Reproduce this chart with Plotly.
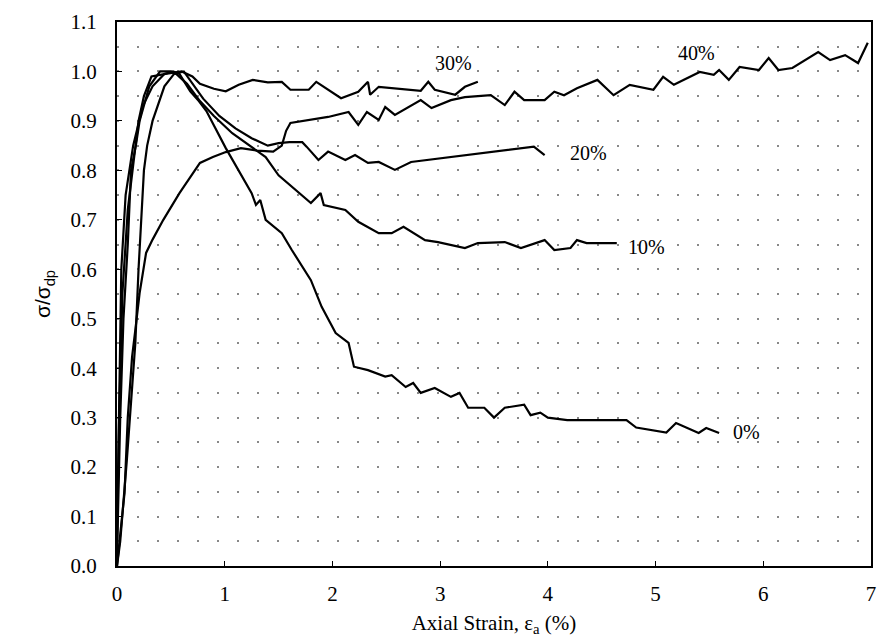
import plotly.graph_objects as go

# ---- data ----
x_0 = [0, 0.02, 0.04, 0.08, 0.15, 0.24, 0.33, 0.44, 0.52, 0.58, 0.68, 0.76, 0.83, 1.01, 1.10,
       1.25, 1.29, 1.33, 1.38, 1.53, 1.62, 1.80, 1.90, 2.03, 2.15, 2.20, 2.33, 2.49, 2.55, 2.68,
       2.75, 2.82, 2.95, 3.10, 3.18, 3.26, 3.41, 3.50, 3.60, 3.78, 3.84, 3.93, 4.00, 4.18, 4.73,
       4.82, 5.10, 5.19, 5.40, 5.47, 5.59]
y_0 = [0.05, 0.30, 0.60, 0.75, 0.85, 0.93, 0.97, 0.995, 1.0, 0.995, 0.96, 0.94, 0.92, 0.845, 0.81,
       0.754, 0.73, 0.74, 0.70, 0.673, 0.64, 0.578, 0.524, 0.471, 0.451, 0.403, 0.396, 0.383, 0.386, 0.362,
       0.37, 0.35, 0.36, 0.342, 0.35, 0.32, 0.32, 0.30, 0.32, 0.326, 0.305, 0.31, 0.30, 0.295, 0.295,
       0.28, 0.27, 0.289, 0.269, 0.279, 0.269]

x_10 = [0, 0.03, 0.06, 0.10, 0.13, 0.175, 0.21, 0.30, 0.40, 0.50, 0.55, 0.65, 0.77, 0.90, 1.07,
        1.20, 1.38, 1.50, 1.66, 1.80, 1.89, 1.92, 2.12, 2.24, 2.43, 2.55, 2.66, 2.86, 2.98, 3.23,
        3.35, 3.60, 3.75, 3.97, 4.06, 4.21, 4.27, 4.36, 4.64]
y_10 = [0.02, 0.30, 0.50, 0.65, 0.80, 0.85, 0.90, 0.97, 1.0, 1.0, 0.995, 0.975, 0.94, 0.91, 0.875,
        0.855, 0.827, 0.79, 0.76, 0.734, 0.754, 0.73, 0.72, 0.696, 0.673, 0.673, 0.686, 0.659, 0.655, 0.643,
        0.653, 0.655, 0.643, 0.659, 0.639, 0.643, 0.659, 0.653, 0.653]

x_20 = [0, 0.03, 0.09, 0.17, 0.20, 0.25, 0.28, 0.33, 0.44, 0.53, 0.62, 0.70, 0.80, 0.95, 1.10,
        1.25, 1.40, 1.50, 1.60, 1.72, 1.76, 1.87, 1.96, 2.12, 2.21, 2.33, 2.43, 2.58, 2.73, 3.87, 3.97]
y_20 = [0.0, 0.05, 0.21, 0.45, 0.60, 0.80, 0.85, 0.90, 0.97, 0.995, 1.0, 0.975, 0.945, 0.91, 0.885,
        0.865, 0.85, 0.855, 0.857, 0.857, 0.848, 0.821, 0.838, 0.821, 0.831, 0.815, 0.817, 0.801, 0.817, 0.848, 0.831]

x_30 = [0, 0.02, 0.05, 0.10, 0.15, 0.20, 0.25, 0.32, 0.45, 0.60, 0.70, 0.77, 0.90, 1.01, 1.13,
        1.26, 1.40, 1.53, 1.61, 1.78, 1.85, 2.08, 2.24, 2.33, 2.35, 2.43, 2.82, 2.89, 2.95, 3.14,
        3.23, 3.35]
y_30 = [0.05, 0.30, 0.55, 0.72, 0.81, 0.90, 0.95, 0.99, 0.995, 1.0, 0.99, 0.975, 0.965, 0.96, 0.973,
        0.983, 0.978, 0.979, 0.963, 0.963, 0.979, 0.946, 0.959, 0.979, 0.953, 0.969, 0.961, 0.979, 0.963, 0.953,
        0.969, 0.979]

x_40 = [0, 0.03, 0.07, 0.10, 0.14, 0.17, 0.21, 0.27, 0.33, 0.43, 0.58, 0.77, 0.89, 1.01, 1.15,
        1.30, 1.45, 1.53, 1.57, 1.61, 1.96, 2.15, 2.24, 2.32, 2.43, 2.49, 2.58, 2.82, 2.92, 3.10,
        3.23, 3.47, 3.60, 3.69, 3.78, 3.97, 4.06, 4.15, 4.27, 4.46, 4.61, 4.76, 4.98, 5.07, 5.17,
        5.41, 5.54, 5.59, 5.68, 5.78, 5.96, 6.05, 6.14, 6.27, 6.51, 6.62, 6.76, 6.88, 6.97]
y_40 = [0.0, 0.067, 0.148, 0.30, 0.423, 0.477, 0.552, 0.633, 0.66, 0.70, 0.754, 0.815, 0.827, 0.837, 0.845,
        0.84, 0.838, 0.85, 0.88, 0.896, 0.908, 0.918, 0.892, 0.918, 0.902, 0.928, 0.912, 0.942, 0.926, 0.942,
        0.948, 0.952, 0.932, 0.959, 0.942, 0.942, 0.959, 0.952, 0.966, 0.983, 0.952, 0.973, 0.963, 0.989, 0.973,
        0.999, 0.993, 1.003, 0.983, 1.009, 1.003, 1.027, 1.003, 1.007, 1.039, 1.023, 1.033, 1.017, 1.058]

series = [("0%", x_0, y_0), ("10%", x_10, y_10), ("20%", x_20, y_20),
          ("30%", x_30, y_30), ("40%", x_40, y_40)]

label_text = ["30%", "40%", "20%", "10%", "0%"]
label_x = [3.12, 5.38, 4.38, 4.92, 5.84]
label_y = [1.017, 1.037, 0.835, 0.645, 0.27]

x_ticks = [0, 1, 2, 3, 4, 5, 6, 7]
y_ticks = [0.0, 0.1, 0.2, 0.3, 0.4, 0.5, 0.6, 0.7, 0.8, 0.9, 1.0, 1.1]

serif = "Liberation Serif"

fig = go.Figure()
for name, xs, ys in series:
    fig.add_trace(go.Scatter(x=xs, y=ys, mode="lines", name=name,
                             line=dict(color="black", width=2.2), showlegend=False))

for t, lx, ly in zip(label_text, label_x, label_y):
    fig.add_annotation(x=lx, y=ly, text=t, showarrow=False,
                       font=dict(family=serif, size=20, color="black"))

fig.update_layout(
    width=878, height=644,
    margin=dict(l=117, r=2, t=22, b=78),
    paper_bgcolor="white", plot_bgcolor="white",
    font=dict(family=serif, color="black"),
)
fig.update_xaxes(
    range=[0, 7], tickvals=x_ticks, ticktext=[str(v) for v in x_ticks],
    showline=True, linecolor="black", linewidth=2, mirror=True,
    ticks="inside", ticklen=5, tickcolor="black",
    showgrid=False, zeroline=False,
    tickfont=dict(family=serif, size=21, color="black"),
    ticklabelstandoff=8, ticklabeloverflow="allow",
    title=dict(text="Axial Strain, ε<sub>a</sub> (%)", standoff=10,
               font=dict(family=serif, size=21, color="black")),
)
fig.update_yaxes(
    range=[0, 1.1], tickvals=y_ticks, ticktext=[f"{v:.1f}" for v in y_ticks],
    showline=True, linecolor="black", linewidth=2, mirror=True,
    ticks="inside", ticklen=5, tickcolor="black",
    showgrid=True, gridcolor="#888888", gridwidth=1.5, griddash="2px,18px",
    zeroline=False,
    minor=dict(tickvals=[v + 0.05 for v in y_ticks[:-1]], showgrid=True,
               gridcolor="#888888", gridwidth=1.5, griddash="2px,18px"),
    tickfont=dict(family=serif, size=21, color="black"),
    ticklabelstandoff=14,
    title=dict(text="σ/σ<sub>dp</sub>", standoff=14,
               font=dict(family="Liberation Sans", size=21, color="black")),
)

fig.write_html("out.html")
